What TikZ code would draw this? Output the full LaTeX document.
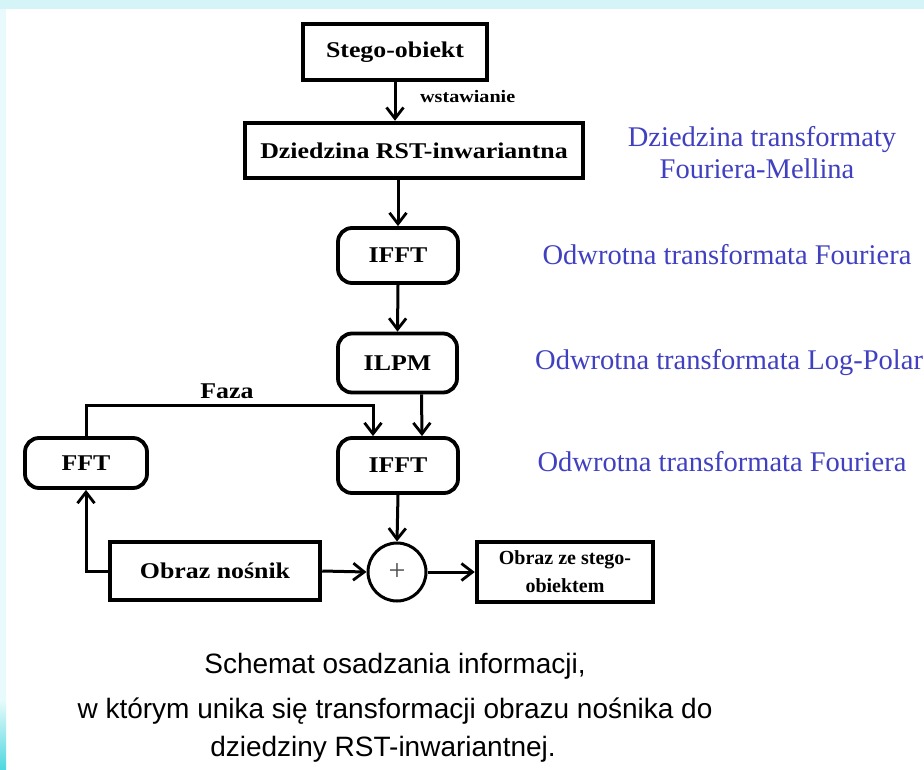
\documentclass[tikz,border=0pt]{standalone}
\usepackage{fontspec}
\setmainfont{Liberation Serif}
\newfontfamily\boxfont[FakeStretch=1.15]{Liberation Serif}
\newfontfamily\capfont{Liberation Sans}
\usetikzlibrary{arrows.meta,positioning}

\definecolor{topband}{RGB}{212,244,248}
\definecolor{sideband}{RGB}{232,250,251}
\definecolor{sidecyan}{RGB}{80,216,224}
\definecolor{notecol}{RGB}{64,64,192}
\definecolor{pluscol}{RGB}{80,80,80}

\tikzset{
  sqbox/.style={draw=black, line width=4.5pt, fill=white, inner sep=0pt,
    font=\boxfont\bfseries\fontsize{22.5}{27}\selectfont},
  rbox/.style={sqbox, line width=3.8pt, rounded corners=14pt},
  arr/.style={line width=3pt, -{Straight Barb[length=11pt,width=17pt,line width=2.8pt]}},
  lbl/.style={inner sep=0pt, font=\boxfont\bfseries\fontsize{22.5}{27}\selectfont},
  note/.style={inner sep=0pt, text=notecol, font=\fontsize{28.5}{32}\selectfont},
  captxt/.style={inner sep=0pt, font=\capfont\fontsize{28}{32}\selectfont}
}

\begin{document}
\begin{tikzpicture}[x=1pt,y=-1pt]
  % page and its tinted edges
  \useasboundingbox (0,0) rectangle (924,769);
  \fill[white] (0,0) rectangle (924,769);
  \fill[topband] (0,0) rectangle (924,9);
  \fill[sideband] (0,9) rectangle (6,700);
  \shade[top color=sideband, bottom color=sidecyan] (0,700) rectangle (6,769);

  % main chain
  \node[sqbox, minimum width=184pt, minimum height=56pt] (stego) at (395,52) {Stego-obiekt};
  \node[sqbox, minimum width=338pt, minimum height=55pt] (rst) at (414,150.5) {Dziedzina RST-inwariantna};
  \node[rbox, minimum width=120pt, minimum height=55pt] (ifftA) at (398,255.5) {IFFT};
  \node[rbox, minimum width=119pt, minimum height=59pt] (ilpm) at (397.5,363) {ILPM};
  \node[rbox, minimum width=120pt, minimum height=55pt] (ifftB) at (398,465.5) {IFFT};
  \node[rbox, minimum width=122pt, minimum height=50pt] (fft) at (86,463) {FFT};
  \node[sqbox, minimum width=210pt, minimum height=58pt] (cover) at (215,571) {Obraz nośnik};
  \node[circle, draw=black, line width=3pt, minimum size=58pt, inner sep=0pt,
        text=pluscol, font=\fontsize{30}{32}\selectfont] (sum) at (397,572) {+};
  \node[sqbox, minimum width=176pt, minimum height=60pt, align=center,
        font=\bfseries\fontsize{20}{28}\selectfont] (out) at (565,572)
        {\raisebox{-3pt}{Obraz ze stego-}\\\raisebox{-3pt}{obiektem}};

  % connectors
  \draw[arr] (stego.south) -- (stego.south |- rst.north);
  \node[lbl, anchor=west, font=\boxfont\bfseries\fontsize{17.5}{20}\selectfont] (ins) at (420,97) {wstawianie};
  \draw[arr] (rst.south -| ifftA) -- (ifftA.north);
  \draw[arr] (ifftA.south) -- (ilpm.north);
  \draw[arr] ([xshift=24pt]ilpm.south) -- ([xshift=24pt]ifftB.north);
  \draw[arr] (fft.north) -- ++(0,-31) coordinate (fzl) -| ([xshift=-25pt]ifftB.north);
  \node[lbl] (faza) at (227,391) {Faza};
  \draw[arr] (cover.west) -| (fft.south);
  \draw[arr] (cover.east) -- (sum.west);
  \draw[arr] (ifftB.south) -- (sum.north);
  \draw[arr] (sum.east) -- (out.west);

  % notes on the right
  \node[note] (n1) at (762,140) {Dziedzina transformaty};
  \node[note] (n2) at (757,169) {Fouriera-Mellina};
  \node[note] (n3) at (727,255) {Odwrotna transformata Fouriera};
  \node[note, anchor=west] (n4) at (535,363) {Odwrotna transformata Log-Polar};
  \node[note] (n5) at (722,462) {Odwrotna transformata Fouriera};

  % caption
  \node[captxt] (c1) at (395,666) {Schemat osadzania informacji,};
  \node[captxt] (c2) at (395,711) {w którym unika się transformacji obrazu nośnika do};
  \node[captxt] (c3) at (383,749) {dziedziny RST-inwariantnej.};
\end{tikzpicture}
\end{document}
